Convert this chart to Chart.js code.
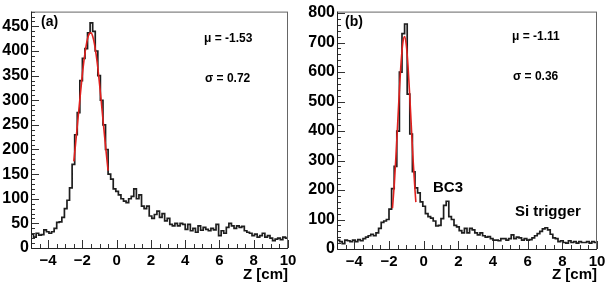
<!DOCTYPE html>
<html>
<head>
<meta charset="utf-8">
<script src="https://cdn.jsdelivr.net/npm/chart.js@4.4.0/dist/chart.umd.min.js"></script>
<style>
  html, body { margin: 0; padding: 0; background: #fff; }
  #wrap { position: relative; width: 610px; height: 286px; }
  canvas { position: absolute; top: 0; }
  #ca { left: 0; }
  #cb { left: 305px; }
</style>
</head>
<body>
<div id="wrap">
  <canvas id="ca" width="305" height="286"></canvas>
  <canvas id="cb" width="305" height="286"></canvas>
</div>
<script>
// histogram binning: 100 bins of 0.15 cm from -5 to 10
var zMin = -5, zMax = 10, binWidth = 0.15;
var xTicks = [-4, -2, 0, 2, 4, 6, 8, 10];

// panel (a) counts per bin
var countsA = [
  28, 22, 30, 26, 27, 37, 33, 30, 33, 40,
  52, 53, 62, 80, 97, 122, 170, 230, 275, 340,
  385, 405, 437, 457, 440, 400, 350, 300, 250, 200,
  150, 140, 120, 115, 108, 100, 95, 92, 100, 105,
  120, 100, 108, 85, 80, 85, 65, 60, 68, 75,
  62, 70, 55, 60, 48, 45, 50, 45, 50, 48,
  38, 48, 35, 40, 32, 45, 36, 42, 38, 35,
  40, 37, 48, 25, 35, 30, 42, 50, 45, 40,
  45, 42, 44, 35, 32, 30, 25, 28, 22, 25,
  30, 22, 25, 20, 15, 18, 20, 17, 22, 20
];
// panel (b) counts per bin
var countsB = [
  30, 25, 18, 30, 28, 25, 30, 25, 32, 28,
  35, 40, 45, 50, 45, 55, 70, 90, 95, 100,
  135, 205, 280, 400, 600, 730, 763, 525, 390, 262,
  207, 190, 160, 145, 120, 110, 105, 95, 78, 80,
  103, 148, 162, 110, 100, 80, 75, 62, 55, 70,
  55, 70, 65, 55, 48, 55, 45, 40, 42, 35,
  30, 30, 28, 35, 35, 30, 35, 48, 35, 40,
  38, 30, 35, 30, 32, 38, 45, 52, 60, 68,
  72, 65, 50, 38, 35, 25, 28, 22, 20, 28,
  22, 25, 20, 25, 22, 22, 25, 20, 25, 22
];

// gaussian fit curves
var fitZA = [-2.5, -2.4, -2.3, -2.2, -2.1, -2.0, -1.9, -1.8, -1.7, -1.6, -1.5,
             -1.4, -1.3, -1.2, -1.1, -1.0, -0.9, -0.8, -0.7, -0.6, -0.5];
var fitYA = [176, 211, 247, 283, 319, 353, 383, 407, 425, 435, 437,
             430, 415, 393, 366, 333, 298, 261, 225, 190, 157];
var fitZB = [-1.8, -1.7, -1.6, -1.5, -1.4, -1.3, -1.2, -1.1, -1.0, -0.9, -0.8, -0.7, -0.6, -0.5, -0.45];
var fitYB = [138, 216, 314, 425, 538, 635, 700, 720, 690, 618, 516, 402, 293, 199, 159];

var yTicksA = [0, 50, 100, 150, 200, 250, 300, 350, 400, 450];
var yTicksB = [0, 100, 200, 300, 400, 500, 600, 700, 800];

function histPoints(counts) {
  var pts = [];
  for (var i = 0; i < counts.length; i++) {
    pts.push({x: zMin + i * binWidth, y: counts[i]});
  }
  pts.push({x: zMax, y: counts[counts.length - 1]});
  return pts;
}

function fitPoints(zs, ys) {
  return zs.map(function (z, i) { return {x: z, y: ys[i]}; });
}

function minus(v) {
  return v < 0 ? '\u2212' + Math.abs(v) : '' + v;
}

// ROOT style frame with inner ticks, plus texts
function framePlugin(cfg) {
  return {
    id: 'frame',
    afterDraw: function (chart) {
      var ctx = chart.ctx, a = chart.chartArea;
      var xs = chart.scales.x, ys = chart.scales.y;
      ctx.save();
      ctx.strokeStyle = '#333';
      ctx.lineWidth = 1;
      ctx.beginPath();
      // x ticks
      for (var z = zMin; z <= zMax + 1e-6; z += 0.5) {
        var px = Math.round(xs.getPixelForValue(z)) + 0.5;
        var len = (Math.abs(z % 2) < 1e-6) ? 8 : 4;
        ctx.moveTo(px, a.bottom);
        ctx.lineTo(px, a.bottom - len);
      }
      // y ticks
      for (var v = 0; v <= ys.max; v += cfg.yMinor) {
        var py = Math.round(ys.getPixelForValue(v)) + 0.5;
        var l2 = (v % cfg.yMajor === 0) ? 8 : 4;
        ctx.moveTo(a.left, py);
        ctx.lineTo(a.left + l2, py);
      }
      ctx.stroke();
      ctx.strokeStyle = '#666';
      ctx.strokeRect(a.left + 0.5, a.top + 0.5, a.right - a.left - 1, a.bottom - a.top);
      ctx.strokeStyle = '#222';
      ctx.beginPath();
      ctx.moveTo(a.left + 0.5, a.top);
      ctx.lineTo(a.left + 0.5, a.bottom + 0.5);
      ctx.lineTo(a.right, a.bottom + 0.5);
      ctx.stroke();

      ctx.fillStyle = '#000';
      ctx.textBaseline = 'middle';
      ctx.font = 'bold 15px "Liberation Sans", Arial, sans-serif';
      ctx.textAlign = 'right';
      ctx.fillText('Z [cm]', a.right, 275);
      ctx.textAlign = 'left';
      ctx.font = 'bold 14px "Liberation Sans", Arial, sans-serif';
      ctx.fillText(cfg.tag, cfg.tagX, 22);
      ctx.font = 'bold 12px "Liberation Sans", Arial, sans-serif';
      ctx.fillText('\u03bc = ' + cfg.mu, cfg.statX, cfg.muY);
      ctx.fillText('\u03c3 = ' + cfg.sigma, cfg.statX + 1, cfg.muY + 40);
      ctx.font = 'bold 15px "Liberation Sans", Arial, sans-serif';
      (cfg.notes || []).forEach(function (n) {
        ctx.fillText(n[0], n[1], n[2]);
      });
      ctx.restore();
    }
  };
}

function makeChart(id, counts, fz, fy, yMax, yTicks, yWidth, pad, cfg) {
  return new Chart(document.getElementById(id), {
    type: 'line',
    data: {
      datasets: [{
        data: fitPoints(fz, fy),
        borderColor: '#e0201e',
        borderWidth: 1.6,
        pointRadius: 0,
        cubicInterpolationMode: 'monotone'
      }, {
        data: histPoints(counts),
        borderColor: '#1e1e1e',
        borderWidth: 1.7,
        pointRadius: 0,
        stepped: 'before'
      }]
    },
    options: {
      responsive: false,
      animation: false,
      devicePixelRatio: 1,
      layout: { padding: pad },
      plugins: { legend: { display: false }, tooltip: { enabled: false } },
      scales: {
        x: {
          type: 'linear',
          min: zMin,
          max: zMax,
          grid: { display: false, drawTicks: false },
          border: { display: false },
          afterBuildTicks: function (s) { s.ticks = xTicks.map(function (v) { return {value: v}; }); },
          afterFit: function (s) { s.height = 286 - pad.bottomEdge; },
          ticks: {
            padding: 4,
            maxRotation: 0,
            autoSkip: false,
            color: '#000',
            font: { family: '"Liberation Sans", Arial, sans-serif', size: 15, weight: 'bold' },
            callback: function (v) { return minus(v); }
          }
        },
        y: {
          min: 0,
          max: yMax,
          grid: { display: false, drawTicks: false },
          border: { display: false },
          afterBuildTicks: function (s) { s.ticks = yTicks.map(function (v) { return {value: v}; }); },
          afterFit: function (s) { s.width = yWidth; },
          ticks: {
            padding: 2,
            autoSkip: false,
            color: '#000',
            font: { family: '"Liberation Sans", Arial, sans-serif', size: 16, weight: 'bold' }
          }
        }
      }
    },
    plugins: [framePlugin(cfg)]
  });
}

makeChart('ca', countsA, fitZA, fitYA, 480, yTicksA, 31,
  {left: 0, top: 8, right: 17, bottom: 0, bottomEdge: 248},
  {tag: '(a)', tagX: 41, mu: '-1.53', sigma: '0.72', statX: 204, muY: 39, yMinor: 10, yMajor: 50});

makeChart('cb', countsB, fitZB, fitYB, 805, yTicksB, 32,
  {left: 0, top: 7, right: 13, bottom: 0, bottomEdge: 249},
  {tag: '(b)', tagX: 40, mu: '-1.11', sigma: '0.36', statX: 207, muY: 37, yMinor: 20, yMajor: 100,
   notes: [['BC3', 128, 188], ['Si trigger', 210, 212]]});
</script>
</body>
</html>
